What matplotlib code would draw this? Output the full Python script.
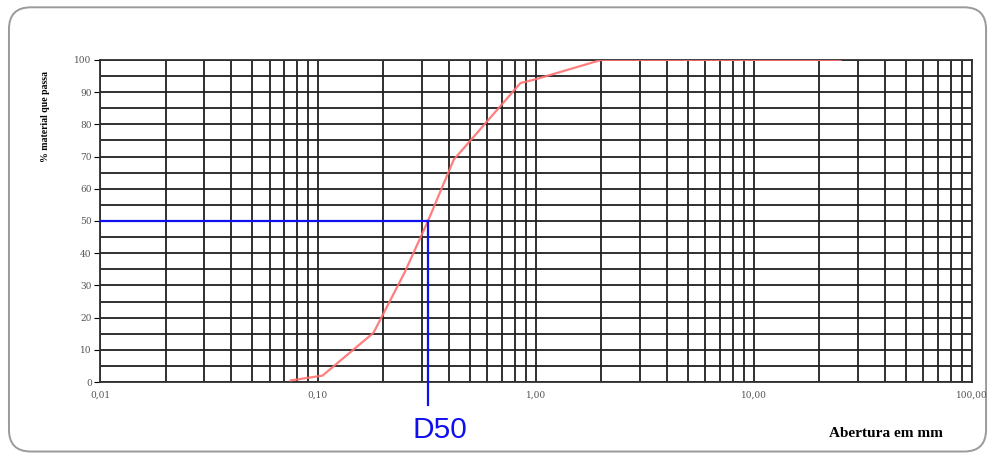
import matplotlib.pyplot as plt
from matplotlib.patches import FancyBboxPatch
from matplotlib.ticker import FixedLocator, NullFormatter

# granulometria: abertura (mm) x % passante
abertura = [0.075, 0.105, 0.18, 0.25, 0.32, 0.42, 0.85, 1.0, 2.0, 25.0]
passante = [0.5, 2.0, 15.3, 34.0, 50.0, 69.0, 92.8, 94.0, 100.0, 100.0]
d50 = 0.32
x_ticks = [0.01, 0.1, 1, 10, 100]
x_labels = ['0,01', '0,10', '1,00', '10,00', '100,00']
y_ticks = list(range(0, 101, 10))

fig = plt.figure(figsize=(9.95, 4.57), dpi=100)

# moldura arredondada
frame = FancyBboxPatch((0.009, 0.012), 0.982, 0.972, boxstyle='round,pad=0,rounding_size=0.022',
                       transform=fig.transFigure, facecolor='none', edgecolor='#9a9a9a',
                       linewidth=1.4, mutation_aspect=995 / 457, zorder=-1)
fig.patches.append(frame)

ax = fig.add_axes([0.1005, 0.164, 0.876, 0.705])
ax.set_xscale('log')
ax.set_xlim(0.01, 100)
ax.set_ylim(0, 100)

minor = [m * 10.0 ** e for e in range(-2, 2) for m in range(2, 10)]
ax.xaxis.set_major_locator(FixedLocator(x_ticks))
ax.xaxis.set_minor_locator(FixedLocator(minor))
ax.xaxis.set_minor_formatter(NullFormatter())
ax.set_xticklabels(x_labels)
ax.set_yticks(y_ticks)
ax.set_yticks(range(5, 100, 10), minor=True)

ax.grid(True, which='both', color='#202020', linewidth=1.3)
ax.set_axisbelow(True)
for s in ax.spines.values():
    s.set_color('#303030')
    s.set_linewidth(1.3)

ax.tick_params(axis='x', which='both', length=0, labelsize=6.5, pad=6, labelcolor='#555555')
ax.tick_params(axis='y', which='major', length=4, labelsize=6.5, pad=2, labelcolor='#555555')
ax.tick_params(axis='y', which='minor', length=0)
for lab in ax.get_xticklabels() + ax.get_yticklabels():
    lab.set_family('DejaVu Serif')

ax.plot(abertura, passante, color='#ff7070', linewidth=1.6, alpha=0.9, zorder=3)

# linhas do D50
ax.plot([0.01, d50], [50, 50], color='#1010ee', linewidth=1.6, zorder=4)
ax.plot([d50, d50], [50, -7], color='#1010ee', linewidth=1.6, zorder=4, clip_on=False)
ax.annotate('D50', xy=(d50, -17.4), xycoords='data', xytext=(-11.5, 0),
            textcoords='offset points', color='#1010ee', fontsize=21.5,
            ha='left', va='baseline', family='Liberation Sans', annotation_clip=False)

fig.text(0.046, 0.745, '% material que passa', rotation=90, ha='center', va='center',
         fontsize=7, fontweight='bold', family='Liberation Serif')
fig.text(0.89, 0.052, 'Abertura em mm', ha='center', va='center',
         fontsize=11, fontweight='bold', family='Liberation Serif')

fig.savefig('out.png', dpi=100)
